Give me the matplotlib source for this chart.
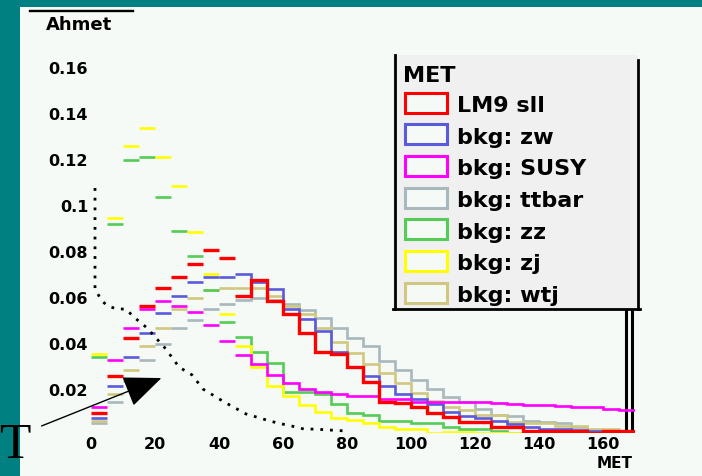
import numpy as np
import matplotlib.pyplot as plt
from matplotlib.patches import Rectangle
from matplotlib.lines import Line2D
from matplotlib.transforms import ScaledTranslation

# -------------------------------------------------------------
# MET histograms, 34 bins of 5 GeV between 0 and 170
# -------------------------------------------------------------
met_edges = np.arange(0, 175, 5)

lm9_sll = [0.0088, 0.025, 0.0412, 0.0551, 0.063, 0.068, 0.0736, 0.0794, 0.076,
           0.0597, 0.0665, 0.0574, 0.0516, 0.0433, 0.0352, 0.0342, 0.0288, 0.0223,
           0.0133, 0.013, 0.0115, 0.0088, 0.0071, 0.0049, 0.0049, 0.0028, 0.0028,
           0.0009, 0.0009, 0.0009, 0.0009, 0.0, 0.0009, 0.0009]
bkg_zw = [0.0064, 0.0203, 0.0329, 0.0433, 0.052, 0.0597, 0.0655, 0.0677, 0.068,
          0.069, 0.0658, 0.0626, 0.054, 0.0496, 0.0445, 0.0354, 0.0286, 0.0249,
          0.0204, 0.017, 0.0146, 0.0127, 0.009, 0.0075, 0.0064, 0.0053, 0.0041,
          0.0028, 0.0018, 0.0017, 0.0014, 0.0009, 0.0009, 0.0009]
bkg_susy = [0.0113, 0.0319, 0.0457, 0.0538, 0.0572, 0.0551, 0.0527, 0.0468, 0.04,
            0.034, 0.0299, 0.0252, 0.0219, 0.019, 0.018, 0.017, 0.016, 0.016,
            0.0147, 0.0147, 0.0135, 0.0135, 0.0134, 0.0134, 0.0134, 0.013, 0.0126,
            0.0122, 0.0122, 0.0118, 0.0113, 0.0113, 0.0106, 0.01]
bkg_ttbar = [0.0042, 0.0133, 0.0227, 0.0319, 0.0387, 0.0457, 0.0491, 0.0538, 0.056,
             0.058, 0.0585, 0.0578, 0.056, 0.0535, 0.0501, 0.0458, 0.0411, 0.0377,
             0.0315, 0.0274, 0.023, 0.0192, 0.0158, 0.0135, 0.0103, 0.0077, 0.0072,
             0.0054, 0.005, 0.0044, 0.0026, 0.0012, 0.001, 0.0]
bkg_zz = [0.0329, 0.0909, 0.1187, 0.1199, 0.1025, 0.088, 0.077, 0.062, 0.0481,
          0.0416, 0.0352, 0.0304, 0.018, 0.018, 0.017, 0.0126, 0.0088, 0.0078,
          0.0053, 0.0053, 0.0044, 0.0044, 0.0028, 0.0016, 0.0019, 0.0009, 0.0,
          0.0009, 0.0, 0.0, 0.0, 0.0, 0.0, 0.0]
bkg_zj = [0.0342, 0.0933, 0.1247, 0.1326, 0.12, 0.1072, 0.0874, 0.069, 0.0516,
          0.038, 0.0286, 0.0204, 0.0161, 0.0122, 0.0093, 0.0064, 0.0058, 0.0042,
          0.0028, 0.0019, 0.0019, 0.0, 0.0006, 0.0006, 0.0, 0.0, 0.0, 0.0,
          0.0, 0.0, 0.0, 0.0, 0.0, 0.0]
bkg_wtj = [0.0052, 0.0168, 0.0272, 0.0377, 0.0457, 0.0538, 0.0585, 0.062, 0.0632,
           0.0632, 0.0632, 0.0597, 0.0553, 0.0516, 0.0458, 0.0397, 0.0349, 0.0299,
           0.0262, 0.0219, 0.0175, 0.0139, 0.0115, 0.01, 0.0078, 0.0078, 0.005,
           0.0044, 0.0044, 0.0029, 0.0029, 0.0019, 0.0019, 0.0009]

series_labels = ["LM9 sll", "bkg: zw", "bkg: SUSY", "bkg: ttbar",
                 "bkg: zz", "bkg: zj", "bkg: wtj"]
series_colors = ["#ff0000", "#5a5adc", "#ff00ff", "#a8b8bc",
                 "#55cc55", "#ffff00", "#d0c880"]
series_values = [lm9_sll, bkg_zw, bkg_susy, bkg_ttbar, bkg_zz, bkg_zj, bkg_wtj]

# dotted reference curve
fit_x = [1.25, 1.25, 3.4, 5.3, 8.1, 10.9, 13.4, 17.5, 23.4, 27.5, 31.6, 35.0,
         41.6, 48.4, 54.7, 58.4, 62.8, 66.6, 69.7, 79.4]
fit_y = [0.1065, 0.0626, 0.0574, 0.0552, 0.0539, 0.0539, 0.0504, 0.0457, 0.0365,
         0.0287, 0.0252, 0.0191, 0.0135, 0.0083, 0.0057, 0.0043, 0.003, 0.0017,
         0.0017, 0.0009]

# overflow spike in the last bin (runs up behind the legend)
overflow_edges = [167.2, 169.2]
overflow_value = [0.15]

x_ticks = [0, 20, 40, 60, 80, 100, 120, 140, 160]
y_ticks = [0.02, 0.04, 0.06, 0.08, 0.1, 0.12, 0.14, 0.16]
y_tick_labels = ["0.02", "0.04", "0.06", "0.08", "0.1", "0.12", "0.14", "0.16"]

# -------------------------------------------------------------
# Helpers
# -------------------------------------------------------------
W, H = 702, 476
TEAL = "#008080"
PAPER = "#f5faf7"


def fx(x):
    return x / W


def fy(y):
    return 1 - y / H


def draw_hist(ax, values, color, lw, z):
    """Bin tops only below 45 GeV, full step outline above."""
    values = np.asarray(values)
    split = 9
    ax.hlines(values[:split], met_edges[:split], met_edges[1:split + 1],
              colors=color, lw=lw, zorder=z)
    ax.stairs(values[split:], met_edges[split:], baseline=None,
              color=color, lw=lw, zorder=z)


# -------------------------------------------------------------
# Figure
# -------------------------------------------------------------
fig = plt.figure(figsize=(W / 100, H / 100), dpi=100, facecolor=PAPER)
ax = fig.add_axes([fx(91), 1 - 433 / H, 544 / W, 391 / H])
ax.set_facecolor("none")
ax.set_xlim(0, 170)
ax.set_ylim(0, 0.17)
for side in ax.spines.values():
    side.set_visible(False)

draw_order = [3, 6, 1, 4, 5, 2, 0]
for i in draw_order:
    lw = 2.4 if i == 0 else 1.9
    draw_hist(ax, series_values[i], series_colors[i], lw, 2 + draw_order.index(i))

ax.stairs(overflow_value, overflow_edges, baseline=0, color="black", lw=2.2, zorder=2)
ax.plot(fit_x, fit_y, color="black", lw=2.0, linestyle=(0, (1, 2.5)), zorder=10)

ax.set_xticks(x_ticks)
ax.set_yticks(y_ticks, labels=y_tick_labels)
ax.tick_params(length=0, labelsize=11.5)
ax.tick_params(axis="y", pad=2)
ax.tick_params(axis="x", pad=3)
shift_down = ScaledTranslation(0, -3 / 100, fig.dpi_scale_trans)
for lbl in ax.get_yticklabels():
    lbl.set_transform(lbl.get_transform() + shift_down)
for lbl in ax.get_xticklabels() + ax.get_yticklabels():
    lbl.set_fontweight("bold")

# slide frame
fig.add_artist(Rectangle((0, 0), fx(20), 1, transform=fig.transFigure,
                         facecolor=TEAL, edgecolor="none", zorder=20))
fig.add_artist(Rectangle((0, fy(7)), 1, 7 / H, transform=fig.transFigure,
                         facecolor=TEAL, edgecolor="none", zorder=20))

# title and axis label
fig.add_artist(Line2D([fx(30), fx(133)], [fy(10.7), fy(10.7)],
                      transform=fig.transFigure, color="black", lw=1.7))
fig.text(fx(46), fy(24.5), "Ahmet", ha="left", va="center",
         fontsize=13, fontweight="bold")
fig.text(fx(633), fy(464), "MET", ha="right", va="center",
         fontsize=11, fontweight="bold")

# legend box: open at the top
fig.add_artist(Rectangle((fx(393), fy(309)), (638 - 393) / W, (309 - 55) / H,
                         transform=fig.transFigure, facecolor="#f0f0f0",
                         edgecolor="none", zorder=5))
for xs, ys in [([394.7, 394.7], [55, 309]), ([638, 638], [60, 309]),
               ([393, 640], [308.7, 308.7])]:
    fig.add_artist(Line2D([fx(x) for x in xs], [fy(y) for y in ys],
                          transform=fig.transFigure, color="black",
                          lw=2.0, zorder=6))
fig.text(fx(403), fy(82), "MET", ha="left", va="baseline",
         fontsize=16, fontweight="bold", zorder=7)
for k, (label, color) in enumerate(zip(series_labels, series_colors)):
    yc = 102.5 + 31.7 * k
    fig.add_artist(Rectangle((fx(404.5), fy(yc + 10)), 42 / W, 20 / H,
                             transform=fig.transFigure, facecolor=PAPER,
                             edgecolor=color, lw=2.2, zorder=7))
    fig.text(fx(457), fy(yc + 9.5), label, ha="left", va="baseline",
             fontsize=16, fontweight="bold", zorder=7)

# slide annotation
fig.text(fx(14.5), fy(458), "T", ha="center", va="baseline", fontsize=37,
         family="Liberation Serif", zorder=21)
ax.annotate("", xy=(fx(164), fy(377)), xytext=(fx(39), fy(427)),
            xycoords="figure fraction", textcoords="figure fraction",
            arrowprops=dict(arrowstyle="-|>,head_length=1.2,head_width=0.5",
                            mutation_scale=20, color="black", lw=1.0),
            annotation_clip=False, zorder=12)

fig.savefig("out.png", dpi=100, facecolor=PAPER)
